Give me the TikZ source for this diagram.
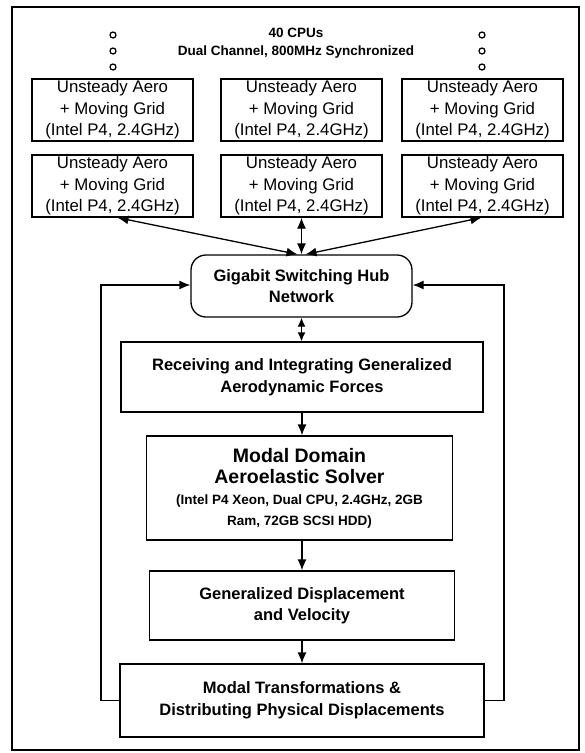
\documentclass[tikz,border=0pt]{standalone}
\usepackage{fontspec}
\setmainfont{Liberation Sans}
\usetikzlibrary{arrows.meta}
\begin{document}
\begin{tikzpicture}[x=1pt,y=-1pt,
  box/.style={draw,line width=1.3pt,inner sep=0pt,align=center},
  cpu/.style={box,minimum width=161pt,minimum height=62pt,font=\fontsize{16.8}{21.5}\selectfont},
  bbox/.style={box,font=\fontsize{16.5}{21.5}\selectfont\bfseries},
  tip/.tip={Latex[length=11pt,width=9pt]},
  stip/.tip={Latex[length=9pt,width=8pt]},
  arr/.style={line width=1.3pt,-tip},
  darr/.style={line width=1.3pt,tip-tip},
  sdarr/.style={line width=1.3pt,stip-stip},
  feed/.style={line width=1.3pt,-tip},
  cdot/.style={circle,draw,line width=1.3pt,inner sep=0pt,minimum size=6pt}]
\useasboundingbox (0,0) rectangle (585,753);
\draw[line width=1.3pt] (12,7) rectangle (579,750);
% header
\node[font=\fontsize{13.5}{18}\selectfont\bfseries,align=center] (hdr) at (296,43) {40 CPUs\\Dual Channel, 800MHz Synchronized};
\node[cdot] (dl1) at (113,35) {};
\node[cdot] (dl2) at (113,51) {};
\node[cdot] (dl3) at (113,67) {};
\node[cdot] (dr1) at (482,35) {};
\node[cdot] (dr2) at (482,51) {};
\node[cdot] (dr3) at (482,67) {};
% CPU boxes
\node[cpu] (a1) at (112.5,110) {Unsteady Aero\\+ Moving Grid\\(Intel P4, 2.4GHz)};
\node[cpu] (a2) at (301.5,110) {Unsteady Aero\\+ Moving Grid\\(Intel P4, 2.4GHz)};
\node[cpu] (a3) at (482.5,110) {Unsteady Aero\\+ Moving Grid\\(Intel P4, 2.4GHz)};
\node[cpu] (b1) at (112.5,186) {Unsteady Aero\\+ Moving Grid\\(Intel P4, 2.4GHz)};
\node[cpu] (b2) at (301.5,186) {Unsteady Aero\\+ Moving Grid\\(Intel P4, 2.4GHz)};
\node[cpu] (b3) at (482.5,186) {Unsteady Aero\\+ Moving Grid\\(Intel P4, 2.4GHz)};
% hub
\node[bbox,rounded corners=15pt,minimum width=221pt,minimum height=62pt] (hub) at (301.5,286) {Gigabit Switching Hub\\Network};
% chain
\node[bbox,minimum width=362pt,minimum height=70pt] (recv) at (302,377) {Receiving and Integrating Generalized\\Aerodynamic Forces};
\node[box,minimum width=306pt,minimum height=104pt,font=\fontsize{19.5}{21}\selectfont\bfseries] (modal) at (299.5,488) {Modal Domain\\Aeroelastic Solver\\\fontsize{13.5}{17}\selectfont (Intel P4 Xeon, Dual CPU, 2.4GHz, 2GB\\\fontsize{13.5}{17}\selectfont Ram, 72GB SCSI HDD)};
\node[bbox,minimum width=305pt,minimum height=69pt] (gen) at (302,605.5) {Generalized Displacement\\and Velocity};
\node[bbox,minimum width=364pt,minimum height=73pt] (tran) at (302,700.5) {Modal Transformations \&\\Distributing Physical Displacements};
% connectors
\draw[darr] ([xshift=5pt]b1.south) -- ([xshift=-4pt]hub.north);
\draw[darr] (b2.south) -- (hub.north);
\draw[darr] ([xshift=-1pt]b3.south) -- ([xshift=4pt]hub.north);
\draw[sdarr] (hub.south) -- (hub.south |- recv.north);
\draw[arr] (recv.south) -- (recv.south |- modal.north);
\draw[arr] (gen.north |- modal.south) -- (gen.north);
\draw[arr] (gen.south) -- (tran.north);
\coordinate (fl) at (101,0);
\coordinate (fr) at (504,0);
\draw[feed] (tran.west) -- (tran.west -| fl) -- ([yshift=1pt]hub.west -| fl) -- ([yshift=1pt]hub.west);
\draw[feed] (tran.east) -- (tran.east -| fr) -- ([yshift=1pt]hub.east -| fr) -- ([yshift=1pt]hub.east);
\end{tikzpicture}
\end{document}
